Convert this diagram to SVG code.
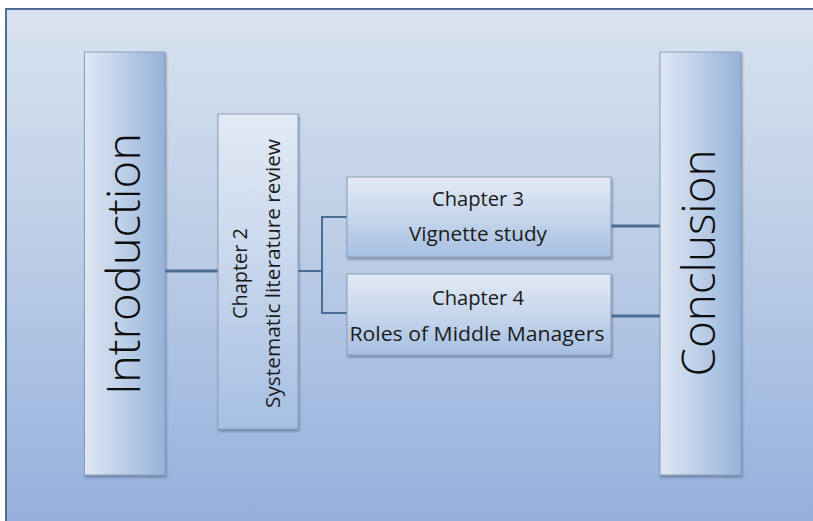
<svg xmlns="http://www.w3.org/2000/svg" width="813" height="521" viewBox="0 0 813 521">
  <defs>
    <linearGradient id="bg" x1="0" y1="0" x2="0" y2="1">
      <stop offset="0" stop-color="#d9e3f0"/>
      <stop offset="0.5" stop-color="#b9cbe5"/>
      <stop offset="1" stop-color="#93b0dc"/>
    </linearGradient>
    <linearGradient id="hgrad" x1="0" y1="0" x2="1" y2="0">
      <stop offset="0" stop-color="#dee7f3"/>
      <stop offset="0.5" stop-color="#bccee7"/>
      <stop offset="1" stop-color="#95b2da"/>
    </linearGradient>
    <linearGradient id="vgrad" x1="0" y1="0" x2="0" y2="1">
      <stop offset="0" stop-color="#e2eaf5"/>
      <stop offset="0.5" stop-color="#c7d6ec"/>
      <stop offset="1" stop-color="#a6bfe2"/>
    </linearGradient>
    <filter id="sh" x="-10%" y="-10%" width="130%" height="130%">
      <feDropShadow dx="1" dy="2" stdDeviation="1.2" flood-color="#2a3f5c" flood-opacity="0.45"/>
    </filter>
  </defs>
  <style>
    .box { stroke: #8ba0bc; stroke-width: 1; filter: url(#sh); }
    .big { font-family: "Open Sans", "Noto Sans", sans-serif; fill: #0d0d0d; font-weight: 300; }
    .mid { font-family: "Open Sans", "Noto Sans", sans-serif; fill: #1a1a1a; }
    .cal { font-family: "Open Sans", "Noto Sans", sans-serif; fill: #1a1a1a; font-size: 20px; }
    .conn { fill: none; stroke: #4a6d94; }
  </style>
  <rect x="6" y="9" width="820" height="520" fill="url(#bg)" stroke="#4f6e92" stroke-width="2"/>

  <g id="connectors">
    <line class="conn" x1="165" y1="271" x2="218" y2="271" stroke-width="3"/>
    <line class="conn" x1="298" y1="271" x2="322" y2="271" stroke-width="2"/>
    <polyline class="conn" points="347,217 322,217 322,313 347,313" stroke-width="2"/>
    <line class="conn" x1="611" y1="226" x2="660" y2="226" stroke-width="3"/>
    <line class="conn" x1="611" y1="316" x2="660" y2="316" stroke-width="3"/>
  </g>

  <g id="introduction">
    <rect class="box" x="84.5" y="52" width="80.5" height="423" fill="url(#hgrad)"/>
    <text class="big" transform="translate(140,264) rotate(-90) scale(1,1.15)" text-anchor="middle" font-size="40" textLength="262" lengthAdjust="spacingAndGlyphs">Introduction</text>
  </g>

  <g id="chapter2">
    <rect class="box" x="218" y="114" width="80" height="315" fill="url(#vgrad)"/>
    <text class="mid" transform="translate(247,273.5) rotate(-90) scale(1,1.1)" text-anchor="middle" font-size="18" textLength="91" lengthAdjust="spacingAndGlyphs">Chapter 2</text>
    <text class="mid" transform="translate(280,273.5) rotate(-90) scale(1,1.1)" text-anchor="middle" font-size="18" textLength="269" lengthAdjust="spacingAndGlyphs">Systematic literature review</text>
  </g>

  <g id="chapter3">
    <rect class="box" x="347" y="177" width="264" height="80" fill="url(#vgrad)"/>
    <text class="cal" x="478" y="206" text-anchor="middle" textLength="92" lengthAdjust="spacingAndGlyphs">Chapter 3</text>
    <text class="cal" x="478" y="241" text-anchor="middle" textLength="138" lengthAdjust="spacingAndGlyphs">Vignette study</text>
  </g>

  <g id="chapter4">
    <rect class="box" x="347" y="274" width="264" height="81" fill="url(#vgrad)"/>
    <text class="cal" x="478" y="305" text-anchor="middle" textLength="92" lengthAdjust="spacingAndGlyphs">Chapter 4</text>
    <text class="cal" x="477" y="341" text-anchor="middle" textLength="255" lengthAdjust="spacingAndGlyphs">Roles of Middle Managers</text>
  </g>

  <g id="conclusion">
    <rect class="box" x="660" y="52" width="81" height="423" fill="url(#hgrad)"/>
    <text class="big" transform="translate(715,263) rotate(-90) scale(1,1.15)" text-anchor="middle" font-size="40" textLength="227" lengthAdjust="spacingAndGlyphs">Conclusion</text>
  </g>
</svg>
